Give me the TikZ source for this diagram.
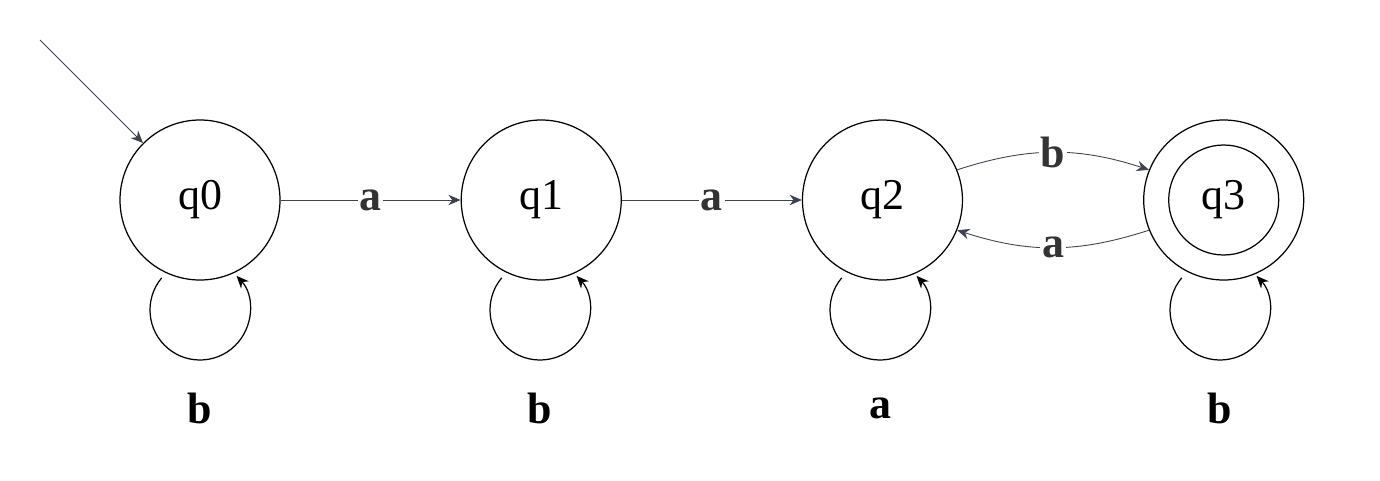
\documentclass[tikz,border=0pt]{standalone}
\usepackage{fontspec}
\setmainfont{Liberation Serif}
\usetikzlibrary{arrows.meta, positioning, calc}
\definecolor{edgegray}{HTML}{3E4350}
\definecolor{labgray}{HTML}{333333}
\begin{document}
\begin{tikzpicture}
            [>={Stealth[length=7pt,width=6pt]}, line width=0.7pt,
            state/.style={circle, draw=black, fill=white, minimum size=3.2cm, inner sep=0pt, font=\fontsize{25}{25}\selectfont},
            trans/.style={->, draw=edgegray, line width=0.5pt},
            elabel/.style={fill=white, inner sep=1pt, text=labgray, font=\bfseries\fontsize{25}{25}\selectfont},
            looplabel/.style={font=\bfseries\fontsize{25}{25}\selectfont}]

            \useasboundingbox (0,0) rectangle (27.6,9.6);

            % self loops under the states
            \foreach \x/\n/\l in {4/0/b, 10.8/1/b, 17.6/2/a, 24.4/3/b}{
              \coordinate (s\n) at ($(\x,3.4)+(140:1)$);
              \draw[->] (s\n) arc (140:403:1);
              \node[looplabel] (l\n) at (\x,1.44) {\l};
            }

            \node[state] (q0) at (4,5.6) {q0};
            \node[state] (q1) [right = 3.6cm of q0] {q1};
            \node[state] (q2) [right = 3.6cm of q1] {q2};
            \node[state] (q3) [right = 3.6cm of q2] {q3};
            \node[circle, draw=black, minimum size=2.2cm] (q3in) at (q3) {};

            \coordinate (init) at (0.8,8.8);
            \draw[trans] (init) -- (q0);

            \draw[trans] (q0) -- node[elabel, pos=0.5] {a} (q1);
            \draw[trans] (q1) -- node[elabel, pos=0.5] {a} (q2);
            \draw[trans] (q2.22) to[bend left=18] node[elabel] {b} (q3.158);
            \draw[trans] (q3.202) to[bend left=18] node[elabel] {a} (q2.-22);

          \end{tikzpicture}
\end{document}
